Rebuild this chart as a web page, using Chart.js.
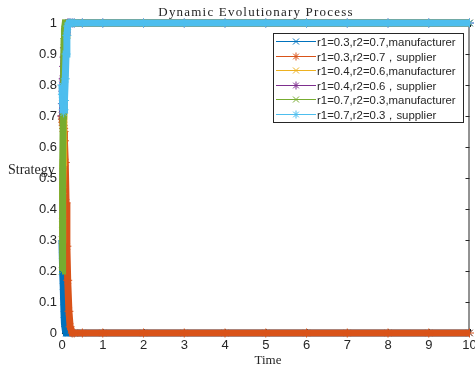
<!DOCTYPE html>
<html>
<head>
<meta charset="utf-8">
<script src="https://cdn.jsdelivr.net/npm/chart.js@4.4.1/dist/chart.umd.min.js"></script>
<style>
  html, body { margin: 0; padding: 0; background: #fff; }
  #wrap { width: 475px; height: 369px; position: relative; }
</style>
</head>
<body>
<div id="wrap"><canvas id="evo"></canvas></div>
<script>
// time steps (x) shared by all series
const times = [0, 0.01, 0.02, 0.03, 0.04, 0.05, 0.06, 0.08, 0.1, 0.12, 0.14, 0.17, 0.2, 0.25, 0.3, 0.5, 1, 2, 3, 4, 5, 6, 7, 8, 9, 10];

const manu03 = [0.3, 0.25, 0.2, 0.15, 0.1, 0.06, 0.03, 0.01, 0, 0, 0, 0, 0, 0, 0, 0, 0, 0, 0, 0, 0, 0, 0, 0, 0, 0];
const supp03 = [0.7, 0.69, 0.68, 0.67, 0.66, 0.65, 0.62, 0.55, 0.42, 0.28, 0.17, 0.07, 0.02, 0, 0, 0, 0, 0, 0, 0, 0, 0, 0, 0, 0, 0];
const manu04 = [0.3, 0.38, 0.46, 0.55, 0.64, 0.72, 0.8, 0.9, 0.96, 0.99, 1, 1, 1, 1, 1, 1, 1, 1, 1, 1, 1, 1, 1, 1, 1, 1];
const supp04 = [0.7, 0.74, 0.78, 0.82, 0.86, 0.89, 0.92, 0.95, 0.97, 0.99, 1, 1, 1, 1, 1, 1, 1, 1, 1, 1, 1, 1, 1, 1, 1, 1];
const manu07 = [0.2, 0.35, 0.52, 0.7, 0.85, 0.94, 0.98, 1, 1, 1, 1, 1, 1, 1, 1, 1, 1, 1, 1, 1, 1, 1, 1, 1, 1, 1];
const supp07 = [0.8, 0.77, 0.74, 0.72, 0.71, 0.72, 0.75, 0.82, 0.9, 0.96, 0.99, 1, 1, 1, 1, 1, 1, 1, 1, 1, 1, 1, 1, 1, 1, 1];

const seriesNames = [
  'r1=0.3,r2=0.7,manufacturer',
  'r1=0.3,r2=0.7\uff0csupplier',
  'r1=0.4,r2=0.6,manufacturer',
  'r1=0.4,r2=0.6\uff0csupplier',
  'r1=0.7,r2=0.3,manufacturer',
  'r1=0.7,r2=0.3\uff0csupplier'
];
const seriesValues = [manu03, supp03, manu04, supp04, manu07, supp07];
const colors = ['#0072BD', '#D95319', '#EDB120', '#7E2F8E', '#77AC30', '#4DBEEE'];
const markers = ['crossRot', 'star', 'crossRot', 'star', 'crossRot', 'star'];

const yTicks = [0, 0.1, 0.2, 0.3, 0.4, 0.5, 0.6, 0.7, 0.8, 0.9, 1];
const xTicks = [0, 1, 2, 3, 4, 5, 6, 7, 8, 9, 10];

const axisColor = '#262626';
const sans = '"Liberation Sans", Arial, sans-serif';
const serif = '"Liberation Serif", "Times New Roman", serif';

const datasets = seriesValues.map((vals, i) => ({
  label: seriesNames[i],
  data: times.map((t, k) => ({ x: t, y: vals[k] })),
  borderColor: colors[i],
  backgroundColor: colors[i],
  borderWidth: 7,
  pointStyle: markers[i],
  pointRadius: 4.5,
  pointBorderWidth: 1,
  pointBorderColor: colors[i],
  pointBackgroundColor: colors[i],
  tension: 0,
  clip: false,
  order: seriesValues.length - i
}));

function legendMarker(ctx, style, cx, cy) {
  ctx.beginPath();
  if (style === 'star') {
    const r = 4;
    for (let k = 0; k < 4; k++) {
      const ang = k * Math.PI / 4;
      ctx.moveTo(cx - r * Math.cos(ang), cy - r * Math.sin(ang));
      ctx.lineTo(cx + r * Math.cos(ang), cy + r * Math.sin(ang));
    }
  } else {
    const r = 3;
    ctx.moveTo(cx - r, cy - r); ctx.lineTo(cx + r, cy + r);
    ctx.moveTo(cx - r, cy + r); ctx.lineTo(cx + r, cy - r);
  }
  ctx.stroke();
}

// MATLAB-like box, inward ticks, titles and legend
const matlabAxes = {
  id: 'matlabAxes',
  beforeDatasetsDraw(chart) {
    const { ctx, chartArea: a, scales: { x, y } } = chart;
    ctx.save();
    ctx.strokeStyle = axisColor;
    ctx.lineWidth = 1;
    ctx.strokeRect(a.left + 0.5, a.top + 0.5, a.right - a.left - 1, a.bottom - a.top - 1);
    ctx.beginPath();
    xTicks.forEach(v => {
      const px = Math.round(x.getPixelForValue(v)) + 0.5;
      ctx.moveTo(px, a.bottom); ctx.lineTo(px, a.bottom - 4);
      ctx.moveTo(px, a.top); ctx.lineTo(px, a.top + 4);
    });
    yTicks.forEach(v => {
      const py = Math.round(y.getPixelForValue(v)) + 0.5;
      ctx.moveTo(a.left, py); ctx.lineTo(a.left + 4, py);
      ctx.moveTo(a.right, py); ctx.lineTo(a.right - 4, py);
    });
    ctx.stroke();
    ctx.restore();
  },
  afterDraw(chart) {
    const { ctx } = chart;
    ctx.save();
    ctx.fillStyle = axisColor;
    ctx.textAlign = 'center';
    ctx.textBaseline = 'middle';
    ctx.font = '13px ' + serif;
    ctx.letterSpacing = '1.2px';
    ctx.fillText('Dynamic Evolutionary Process', 256, 13);
    ctx.letterSpacing = '0px';
    ctx.fillText('Time', 268, 361);
    ctx.font = '14px ' + serif;
    ctx.textAlign = 'left';
    ctx.fillText('Strategy', 8, 170);

    // legend box
    const lx = 273, ly = 33, lw = 190, lh = 89;
    ctx.fillStyle = '#fff';
    ctx.fillRect(lx, ly, lw, lh);
    ctx.strokeStyle = axisColor;
    ctx.lineWidth = 1;
    ctx.strokeRect(lx + 0.5, ly + 0.5, lw, lh);
    ctx.font = '11.4px ' + sans;
    ctx.textBaseline = 'middle';
    seriesNames.forEach((name, i) => {
      const ry = Math.round(ly + 8 + i * 14.6) + 0.5;
      ctx.strokeStyle = colors[i];
      ctx.lineWidth = 1;
      ctx.beginPath();
      ctx.moveTo(lx + 3, ry); ctx.lineTo(lx + 43, ry);
      ctx.stroke();
      legendMarker(ctx, markers[i], lx + 23, ry);
      ctx.fillStyle = axisColor;
      ctx.fillText(name, lx + 44, ry + 1);
    });
    ctx.restore();
  }
};

new Chart(document.getElementById('evo'), {
  type: 'line',
  data: { datasets: datasets },
  plugins: [matlabAxes],
  options: {
    responsive: true,
    maintainAspectRatio: false,
    animation: false,
    layout: { padding: { top: 23, right: 5, left: 0, bottom: 0 } },
    plugins: {
      legend: { display: false },
      title: { display: false },
      tooltip: { enabled: false }
    },
    scales: {
      x: {
        type: 'linear',
        min: 0, max: 10,
        afterBuildTicks: s => { s.ticks = xTicks.map(v => ({ value: v })); },
        afterFit: s => { s.height = 36; s.paddingLeft = 0; s.paddingRight = 0; },
        grid: { display: false, drawTicks: false },
        border: { display: false },
        ticks: { color: axisColor, padding: 5, maxRotation: 0, font: { family: sans, size: 13 },
                 callback: v => String(v) }
      },
      y: {
        min: 0, max: 1,
        afterBuildTicks: s => { s.ticks = yTicks.map(v => ({ value: v })); },
        afterFit: s => { s.width = 62; s.paddingTop = 0; s.paddingBottom = 0; },
        grid: { display: false, drawTicks: false },
        border: { display: false },
        ticks: { color: axisColor, padding: 5, font: { family: sans, size: 13 },
                 callback: v => String(Math.round(v * 10) / 10) }
      }
    }
  }
});
</script>
</body>
</html>
